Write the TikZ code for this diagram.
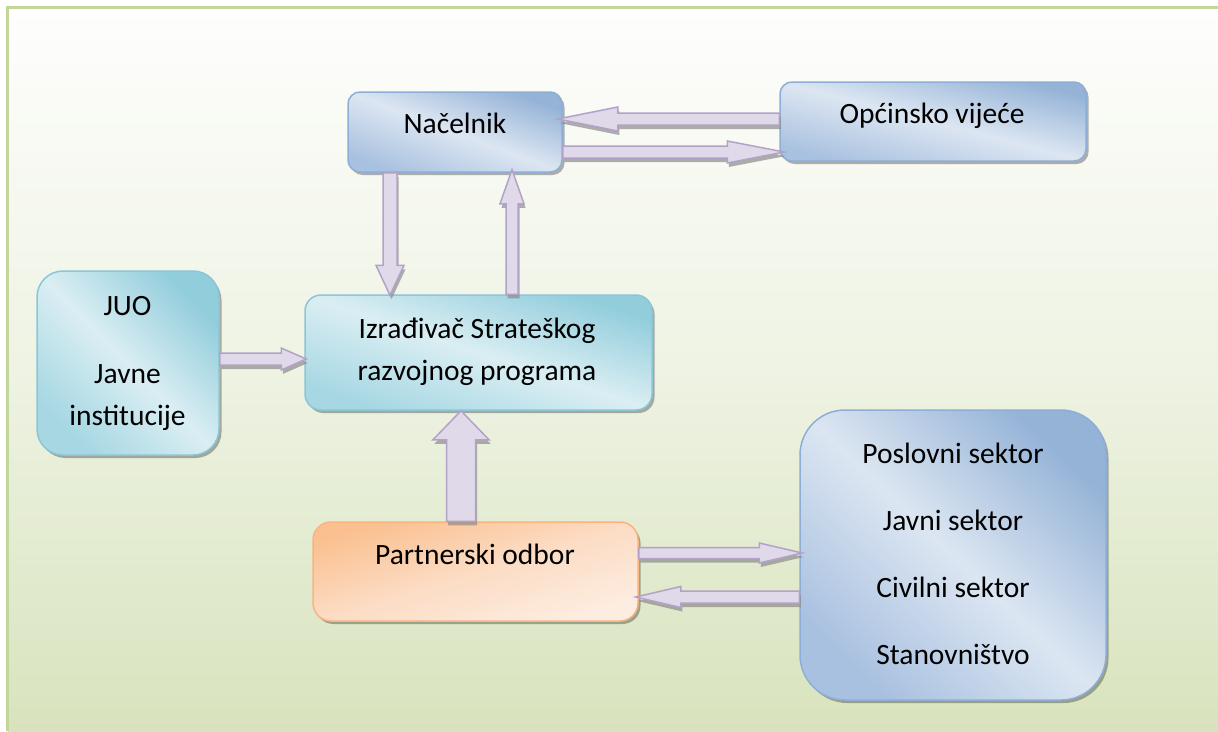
\documentclass[tikz,border=0pt]{standalone}
\usepackage{fontspec}
\setmainfont{Carlito}
\usetikzlibrary{calc,shadows}
\definecolor{bgtop}{HTML}{FEFEFD}
\definecolor{bgmid}{HTML}{EEF3E3}
\definecolor{bgbot}{HTML}{D8E3BD}
\definecolor{framec}{HTML}{C3D69B}
\definecolor{bluedk}{HTML}{95B3D7}
\definecolor{bluelt}{HTML}{DCE6F2}
\definecolor{bluemd}{HTML}{A9C1E0}
\definecolor{blueln}{HTML}{8EAED6}
\definecolor{tealdk}{HTML}{92CDDC}
\definecolor{teallt}{HTML}{DAEEF3}
\definecolor{tealmd}{HTML}{A6D7E3}
\definecolor{tealln}{HTML}{8AC6D6}
\definecolor{orgdk}{HTML}{FAC090}
\definecolor{orglt}{HTML}{FDEDE1}
\definecolor{orgmd}{HTML}{FCDCC4}
\definecolor{orgln}{HTML}{F9B480}
\definecolor{arrfill}{HTML}{E0D9EA}
\definecolor{arrline}{HTML}{B3A2C7}
\definecolor{arrshad}{HTML}{8C8C8C}
\tikzset{
  box/.style={rectangle, rounded corners=#1, line width=1.5pt, inner sep=0pt,
    drop shadow={shadow xshift=2.5pt, shadow yshift=-3pt, fill=black, opacity=0.3}},
  bluebox/.style={draw=blueln, left color=bluemd, right color=bluedk, middle color=bluelt, shading angle=#1},
  tealbox/.style={draw=tealln, left color=tealmd, right color=tealdk, middle color=teallt, shading angle=#1},
  orgbox/.style={draw=orgln, left color=orgdk, right color=orglt, middle color=orgmd, shading angle=#1},
  lbl/.style={font=\fontsize{29.5}{42}\selectfont, align=center, anchor=base, inner sep=0pt},
  arrbody/.style={fill=arrfill, draw=arrline, line width=1.5pt, line join=miter},
  arrshadow/.style={fill=arrshad, opacity=0.7},
}
\newcommand\blkarr[5]{%
  \coordinate (bB) at ($(#2)!#5!(#1)$);
  \fill[arrshadow, transform canvas={xshift=1.5pt,yshift=-4pt}]
    ($(#1)!#3!90:(#2)$) -- ($(bB)!#3!-90:(#1)$) -- ($(bB)!#4!-90:(#1)$) -- (#2)
    -- ($(bB)!#4!90:(#1)$) -- ($(bB)!#3!90:(#1)$) -- ($(#1)!#3!-90:(#2)$) -- cycle;
  \draw[arrbody]
    ($(#1)!#3!90:(#2)$) -- ($(bB)!#3!-90:(#1)$) -- ($(bB)!#4!-90:(#1)$) -- (#2)
    -- ($(bB)!#4!90:(#1)$) -- ($(bB)!#3!90:(#1)$) -- ($(#1)!#3!-90:(#2)$) -- cycle;
}
\begin{document}
\begin{tikzpicture}[x=1pt,y=-1pt]
\useasboundingbox (0,0) rectangle (1218,731);
\fill[white] (0,0) rectangle (1218,731);
\shade[top color=bgtop, bottom color=bgbot, middle color=bgmid] (7.5,7.5) rectangle (1218,731);
\draw[framec, line width=3pt] (7.5,731) -- (7.5,7.5) -- (1218,7.5);

% boxes
\node[box=12pt, bluebox=159.5, minimum width=214pt, minimum height=80pt] (nac) at (455,132) {};
\node[box=12pt, bluebox=165.5, minimum width=306pt, minimum height=79pt] (opc) at (933,121.5) {};
\node[box=26pt, tealbox=134.7, minimum width=182pt, minimum height=184pt] (juo) at (128,363) {};
\node[box=16pt, tealbox=161.7, minimum width=347pt, minimum height=115pt] (izr) at (478.5,352.5) {};
\node[box=18pt, orgbox=17, minimum width=325pt, minimum height=99pt] (par) at (475.5,571.5) {};
\node[box=45pt, bluebox=136.5, minimum width=306pt, minimum height=290pt] (sek) at (953,555) {};

% texts (base anchor = baseline of the last line)
\node[lbl] (nac-t) at (455,133) {Načelnik};
\node[lbl] (opc-t) at (932,123) {Općinsko vijeće};
\node[lbl] (juo-t) at (127.5,425) {JUO\\[26pt]Javne\\institucije};
\node[lbl] (izr-t) at (477,380) {Izrađivač Strateškog\\razvojnog programa};
\node[lbl] (par-t) at (475,564) {Partnerski odbor};
\node[lbl, font=\fontsize{29.5}{67}\selectfont] (sek-t) at (953,664) {Poslovni sektor\\Javni sektor\\Civilni sektor\\Stanovništvo};

% connector end points
\coordinate (a1s) at ($(opc.west)+(0,-2.5)$);
\coordinate (a1e) at ($(nac.east)+(-5,-13)$);
\coordinate (a2s) at ($(nac.east)+(0,20)$);
\coordinate (a2e) at ($(opc.west)+(5,30.5)$);
\coordinate (a3s) at ($(nac.south)+(-65,0)$);
\coordinate (a3e) at ($(izr.north)+(-88.5,1)$);
\coordinate (a4s) at ($(izr.north)+(33.5,0)$);
\coordinate (a4e) at ($(nac.south)+(57,-3)$);
\coordinate (a5s) at ($(juo.east)+(0,-4)$);
\coordinate (a5e) at ($(izr.west)+(2,6.5)$);
\coordinate (a6s) at ($(par.north)+(-14.5,0)$);
\coordinate (a6e) at ($(izr.south)+(-17.5,0)$);
\coordinate (a7s) at ($(par.east)+(0,-18.5)$);
\coordinate (a7e) at ($(sek.west)+(3,-2)$);
\coordinate (a8s) at ($(sek.west)+(0,42)$);
\coordinate (a8e) at ($(par.east)+(-3,25.5)$);

\blkarr{a1s}{a1e}{6pt}{12pt}{60pt}
\blkarr{a2s}{a2e}{6pt}{11pt}{57pt}
\blkarr{a3s}{a3e}{7pt}{14pt}{30pt}
\blkarr{a4s}{a4e}{6pt}{12pt}{34pt}
\blkarr{a5s}{a5e}{6pt}{11pt}{25pt}
\blkarr{a6s}{a6e}{14.5pt}{28pt}{29pt}
\blkarr{a7s}{a7e}{5.5pt}{10pt}{43pt}
\blkarr{a8s}{a8e}{6pt}{10.5pt}{45pt}
\end{tikzpicture}
\end{document}
